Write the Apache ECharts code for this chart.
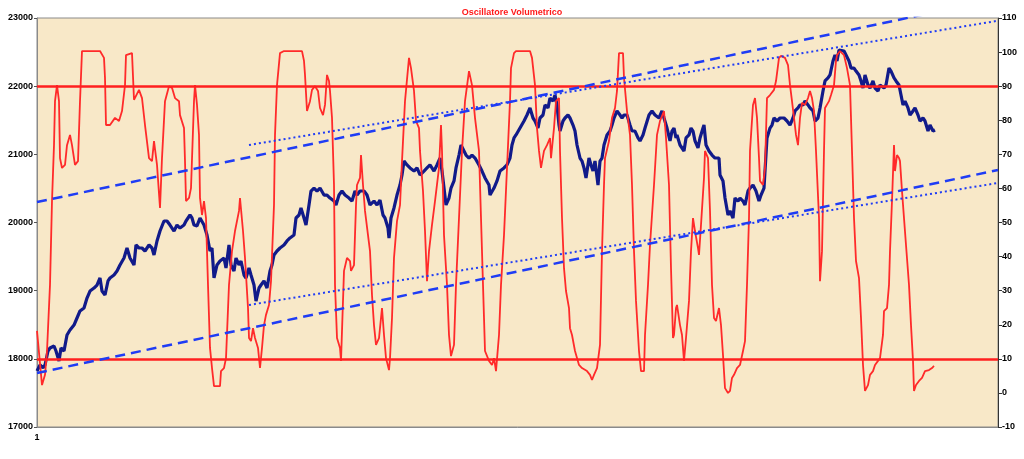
<!DOCTYPE html>
<html>
<head>
<meta charset="utf-8">
<script src="https://cdn.jsdelivr.net/npm/echarts@6/dist/echarts.min.js"></script>
<style>html,body{margin:0;padding:0;background:#fff}#c{width:1024px;height:459px}</style>
</head>
<body>
<div id="c"></div>
<script>
// ---- DATA ----
var title = 'Oscillatore Volumetrico';
var leftTicks = [17000, 23000, 1000];   // min, max, step
var rightTicks = [-10, 110, 10];
var xFirstLabel = '1';

// Index (left axis) — day number, level
var blueDays = [1,4,7,9,12,14,18,20,23,25,28,31,34,38,41,44,48,51,54,58,61,64,66,69,72,74,78,81,84,88,91,94,98,100,103,106,109,113,116,118,121,124,128,131,134,138,141,144,148,150,154,156,158,161,164,168,171,174,176,178,181,184,188,190,193,195,198,200,203,205,208,210,213,215,218,220,223,225,228,231,234,236,238,241,244,248,251,254,258,260,263,265,268,270,273,275,278,281,284,288,291,294,298,300,303,306,309,313,316,319,321,324,328,331,334,338,341,344,347,349,352,353,355,358,361,364,366,368,371,374,378,381,384,388,391,394,398,401,404,406,408,410,413,415,418,420,423,425,428,430,433,436,439,443,446,449,453,454,458,461,464,468,471,474,476,478,480,484,488,491,494,497,499,502,504,507,509,512,514,517,519,521,523,524,527,529,532,534,537,539,541,544,546,548,550,553,555,557,559,562,564,566,568,571,574,576,578,581,584,586,588,591,594,596,599,602,604,607,609,613,616,619,623,626,628,631,634,636,638,640,641,644,646,648,650,653,655,657,659,662,664,667,668,670,673,676,679,683,684,687,689,692,694,697,699,702,704,707,709,712,714,717,720,723,725,728,729,731,734,736,738,741,744,748,751,754,757,759,762,764,767,769,772,774,777,779,782,784,787,789,792,794,797,799,801,803,805,808,810,813,815,818,820,823,825,827,829,832,834,837,839,842,844,848,850,853,855,858,860,863,865,867,869,872,874,877,879,882,884,887,889,892,894,897,899];
var blueVals = [17822,17910,17866,17910,18115,18159,18188,18115,17968,18159,18115,18350,18423,18496,18599,18702,18746,18892,18995,19039,19083,19186,18995,18936,19142,19186,19230,19288,19377,19479,19626,19479,19377,19670,19626,19626,19582,19670,19626,19523,19729,19875,20022,20022,19963,19875,19963,19919,19963,20022,20110,20066,19963,19950,20066,19963,19817,19582,19626,19186,19377,19435,19479,19332,19670,19377,19288,19479,19377,19435,19230,19186,19332,19230,19083,18848,19039,19083,19142,19039,19288,19377,19523,19582,19626,19670,19729,19773,19817,20066,20110,20213,20066,19963,20257,20462,20506,20462,20506,20403,20403,20359,20315,20257,20403,20462,20403,20359,20315,20462,20403,20462,20462,20403,20257,20315,20257,20330,20110,20066,19919,19773,20066,20213,20403,20550,20697,20902,20844,20800,20755,20800,20697,20755,20800,20844,20755,20844,20946,20755,20506,20257,20359,20506,20609,20800,20990,21137,21049,20990,20946,20990,20946,20844,20755,20653,20550,20403,20506,20609,20755,20800,20844,20946,21137,21240,21284,21386,21489,21577,21680,21533,21489,21386,21533,21577,21724,21680,21826,21782,21870,21724,21430,21342,21489,21533,21577,21533,21430,21342,21137,20946,20902,20800,20653,20946,20844,20755,20902,20550,20902,20946,21137,21284,21342,21430,21533,21636,21577,21533,21577,21577,21430,21342,21342,21240,21196,21284,21386,21577,21636,21577,21533,21636,21533,21386,21196,21342,21386,21240,21284,21137,21093,21049,21240,21284,21386,21342,21196,21093,21240,21386,21430,21137,21049,20990,20946,20946,20697,20609,20359,20110,20169,20066,20359,20315,20359,20315,20257,20462,20506,20550,20462,20315,20403,20506,20755,21240,21386,21430,21533,21489,21533,21533,21489,21430,21533,21636,21680,21724,21724,21782,21724,21680,21636,21489,21533,21680,21929,22076,22120,22164,22369,22457,22369,22531,22560,22516,22457,22369,22266,22266,22222,22164,22076,21973,22164,22017,21973,22076,21973,21929,22017,21973,22017,22266,22222,22120,22076,22017,21870,21724,21782,21680,21577,21636,21680,21577,21489,21533,21489,21342,21430,21342,21357];

// Oscillator (right axis) — day number, value
var redDays = [1,6,9,11,14,16,18,19,21,23,24,26,29,31,34,36,39,42,44,46,56,64,68,69,70,74,79,83,86,89,90,96,98,103,106,109,113,116,118,121,124,126,129,133,136,139,143,144,148,149,150,153,155,158,159,161,163,164,166,168,170,172,174,176,178,184,185,188,190,193,196,199,203,204,207,209,212,213,215,217,219,222,224,226,228,230,233,235,238,239,241,244,248,266,268,269,271,274,276,279,282,284,287,289,291,293,294,296,298,299,301,304,305,307,308,311,314,315,318,320,321,324,325,327,329,332,334,336,338,340,343,345,346,348,350,353,354,356,358,361,364,366,369,373,375,378,380,383,384,387,389,391,393,396,399,403,405,406,408,411,413,415,418,420,423,426,429,433,436,439,443,445,447,449,453,456,458,460,463,465,468,471,474,475,478,480,494,496,499,501,503,505,508,511,514,515,518,520,523,524,526,528,530,533,534,536,539,543,546,551,554,556,558,561,564,566,568,569,573,576,579,581,583,587,588,591,594,596,598,600,603,605,608,609,612,614,618,621,624,628,630,633,635,637,638,640,641,644,646,648,650,653,655,657,659,662,663,665,668,669,672,674,676,678,680,683,685,687,689,692,694,696,698,701,704,707,709,711,713,714,717,719,721,723,724,727,729,731,734,738,740,743,745,749,752,754,756,758,760,762,764,766,769,772,774,776,778,780,783,784,786,788,789,793,795,798,800,801,804,808,811,814,816,818,820,823,825,827,829,832,834,837,839,842,844,847,848,851,853,854,856,858,859,861,863,864,866,868,870,873,875,877,878,880,883,886,889,893,896,898];
var redVals = [18.2,2.3,5.3,12.3,31.7,56.3,72.7,85.6,90.3,85.6,68.9,66.0,66.9,72.7,75.7,72.7,66.9,68.0,85.6,100.3,100.3,100.3,98.3,92.4,78.6,78.6,80.7,79.8,82.7,90.3,99.1,99.7,86.0,88.9,86.5,78.6,68.9,68.0,73.9,66.9,54.3,68.9,85.6,90.0,89.5,86.5,85.6,81.5,77.7,68.0,56.3,57.2,60.1,85.6,90.3,84.5,75.7,57.2,52.2,56.3,51.3,31.7,13.2,7.3,2.0,2.0,6.4,7.3,10.2,31.7,41.6,47.5,53.4,57.2,47.5,39.6,24.9,16.1,15.2,19.0,16.1,13.2,7.3,13.2,19.9,22.9,25.8,32.8,55.1,75.7,90.3,99.7,100.3,100.3,97.4,93.3,82.7,85.6,88.9,90.0,88.6,83.6,81.5,84.5,93.3,91.5,88.6,80.7,61.0,31.7,16.1,13.2,9.4,27.0,35.8,39.6,38.7,35.8,37.5,55.1,61.0,63.1,69.8,61.0,53.4,46.3,41.6,28.7,19.9,14.1,16.1,16.1,24.9,17.0,10.2,6.7,10.2,22.0,39.6,50.4,55.1,68.0,85.6,98.3,95.3,88.6,79.8,77.7,71.0,59.2,47.5,32.8,41.6,49.3,56.3,66.0,78.6,71.0,46.3,31.7,17.0,10.8,14.1,31.7,51.3,71.0,85.6,94.4,90.3,80.7,71.0,51.3,31.7,12.3,9.4,8.2,10.2,6.4,17.0,31.7,46.3,66.0,85.6,95.3,99.7,100.3,100.3,98.3,90.3,77.7,71.0,66.0,71.0,72.7,74.8,68.9,77.7,85.6,86.5,71.0,51.3,36.6,29.9,24.9,19.0,17.0,12.3,8.2,7.3,6.4,5.3,3.8,5.3,7.3,14.1,41.6,61.0,68.9,73.9,80.7,83.6,88.6,99.7,99.7,92.4,82.7,75.7,61.0,41.6,27.0,12.3,6.4,6.4,17.0,31.7,43.4,61.0,75.7,79.8,82.7,74.8,61.0,36.6,16.1,17.0,24.9,25.8,19.9,17.0,9.4,16.1,27.0,41.6,51.3,47.5,42.5,40.5,49.3,63.1,71.0,68.9,53.4,31.7,22.0,21.1,24.9,19.9,11.1,1.4,0.0,0.6,4.4,5.3,7.3,8.2,12.3,15.2,31.7,51.3,71.0,84.5,86.5,80.7,68.9,62.2,61.0,66.0,86.5,87.4,88.9,91.5,98.3,98.9,98.3,96.2,90.3,85.6,80.7,75.7,72.7,80.7,85.1,84.5,86.5,88.6,86.5,82.7,71.0,51.3,32.8,41.6,71.0,83.6,85.6,87.4,90.3,97.4,99.1,100.3,99.1,95.3,90.3,71.0,51.3,38.7,33.7,22.0,8.2,0.6,2.3,5.3,6.4,8.2,9.4,10.2,17.0,24.0,24.9,31.7,41.6,56.3,72.7,65.1,69.8,68.9,68.0,59.2,51.3,43.4,31.7,19.9,9.4,0.6,2.3,3.5,4.4,6.4,6.7,7.3,7.9];

// Reference levels and trend lines (left axis units)
var refLevels = [22000, 18000];
var upperDashed = [[1, 20300], [962, 23282]];
var lowerDashed = [[1, 17792], [962, 20770]];
var upperDotted = [[213, 21137], [962, 22960]];
var lowerDotted = [[213, 18790], [962, 20580]];
var xRange = [1, 962];

// ---- CHART ----
function zip(a, b) { return a.map(function (d, i) { return [d, b[i]]; }); }
var FONT = 'Liberation Sans, Arial, sans-serif';
var chart = echarts.init(document.getElementById('c'), null, { renderer: 'canvas' });
chart.setOption({
  animation: false,
  backgroundColor: '#ffffff',
  title: {
    text: title, left: 'center', top: 3,
    textStyle: { color: '#ff1a1a', fontSize: 9, fontWeight: 'bold', fontFamily: FONT }
  },
  grid: {
    left: 37, right: 26, top: 18, bottom: 32,
    show: true, backgroundColor: '#f8e8c8', borderColor: '#8a8a8a', borderWidth: 1
  },
  xAxis: {
    type: 'value', min: xRange[0], max: xRange[1],
    axisLine: { show: true, onZero: false, lineStyle: { color: '#8a8a8a', width: 1 } },
    axisTick: { show: false },
    splitLine: { show: false },
    axisLabel: {
      margin: 6, color: '#000', fontSize: 9, fontWeight: 'bold', fontFamily: FONT,
      showMinLabel: true, showMaxLabel: false,
      formatter: function (v) { return v === xRange[0] ? xFirstLabel : ''; }
    }
  },
  yAxis: [{
    type: 'value', min: leftTicks[0], max: leftTicks[1], interval: leftTicks[2], position: 'left',
    axisLine: { show: true, lineStyle: { color: '#8a8a8a', width: 1 } },
    axisTick: { show: true, inside: false, length: 3, lineStyle: { color: '#555' } },
    splitLine: { show: false },
    axisLabel: { margin: 4, color: '#000', fontSize: 9, fontWeight: 'bold', fontFamily: FONT,
      formatter: function (v) { return String(v); } }
  }, {
    type: 'value', min: rightTicks[0], max: rightTicks[1], interval: rightTicks[2], position: 'right',
    axisLine: { show: true, lineStyle: { color: '#333', width: 1 } },
    axisTick: { show: true, inside: false, length: 4, lineStyle: { color: '#333' } },
    splitLine: { show: false },
    axisLabel: { margin: 4, color: '#000', fontSize: 9, fontWeight: 'bold', fontFamily: FONT,
      formatter: function (v) { return String(v); } }
  }],
  series: [{
    name: 'Indice', type: 'line', yAxisIndex: 0, data: zip(blueDays, blueVals),
    showSymbol: false, symbol: 'none', lineStyle: { color: '#111a8a', width: 3.2 }, z: 3,
    markLine: {
      silent: true, symbol: 'none', label: { show: false },
      lineStyle: { color: '#ff1f1f', width: 2.5, type: 'solid' },
      data: refLevels.map(function (v) { return { yAxis: v }; })
    }
  }, {
    name: 'Oscillatore', type: 'line', yAxisIndex: 1, data: zip(redDays, redVals),
    showSymbol: false, symbol: 'none', lineStyle: { color: '#ff2a2a', width: 1.8 }, z: 4
  }, {
    type: 'line', yAxisIndex: 0, data: upperDashed, symbol: 'none', clip: true,
    lineStyle: { color: '#1f3cf5', width: 2.5, type: [10, 6] }, z: 5
  }, {
    type: 'line', yAxisIndex: 0, data: lowerDashed, symbol: 'none', clip: true,
    lineStyle: { color: '#1f3cf5', width: 2.5, type: [10, 6] }, z: 5
  }, {
    type: 'line', yAxisIndex: 0, data: upperDotted, symbol: 'none', clip: true,
    lineStyle: { color: '#1f3cf5', width: 2, type: [2, 3] }, z: 5
  }, {
    type: 'line', yAxisIndex: 0, data: lowerDotted, symbol: 'none', clip: true,
    lineStyle: { color: '#1f3cf5', width: 2, type: [2, 3] }, z: 5
  }]
});
</script>
</body>
</html>
